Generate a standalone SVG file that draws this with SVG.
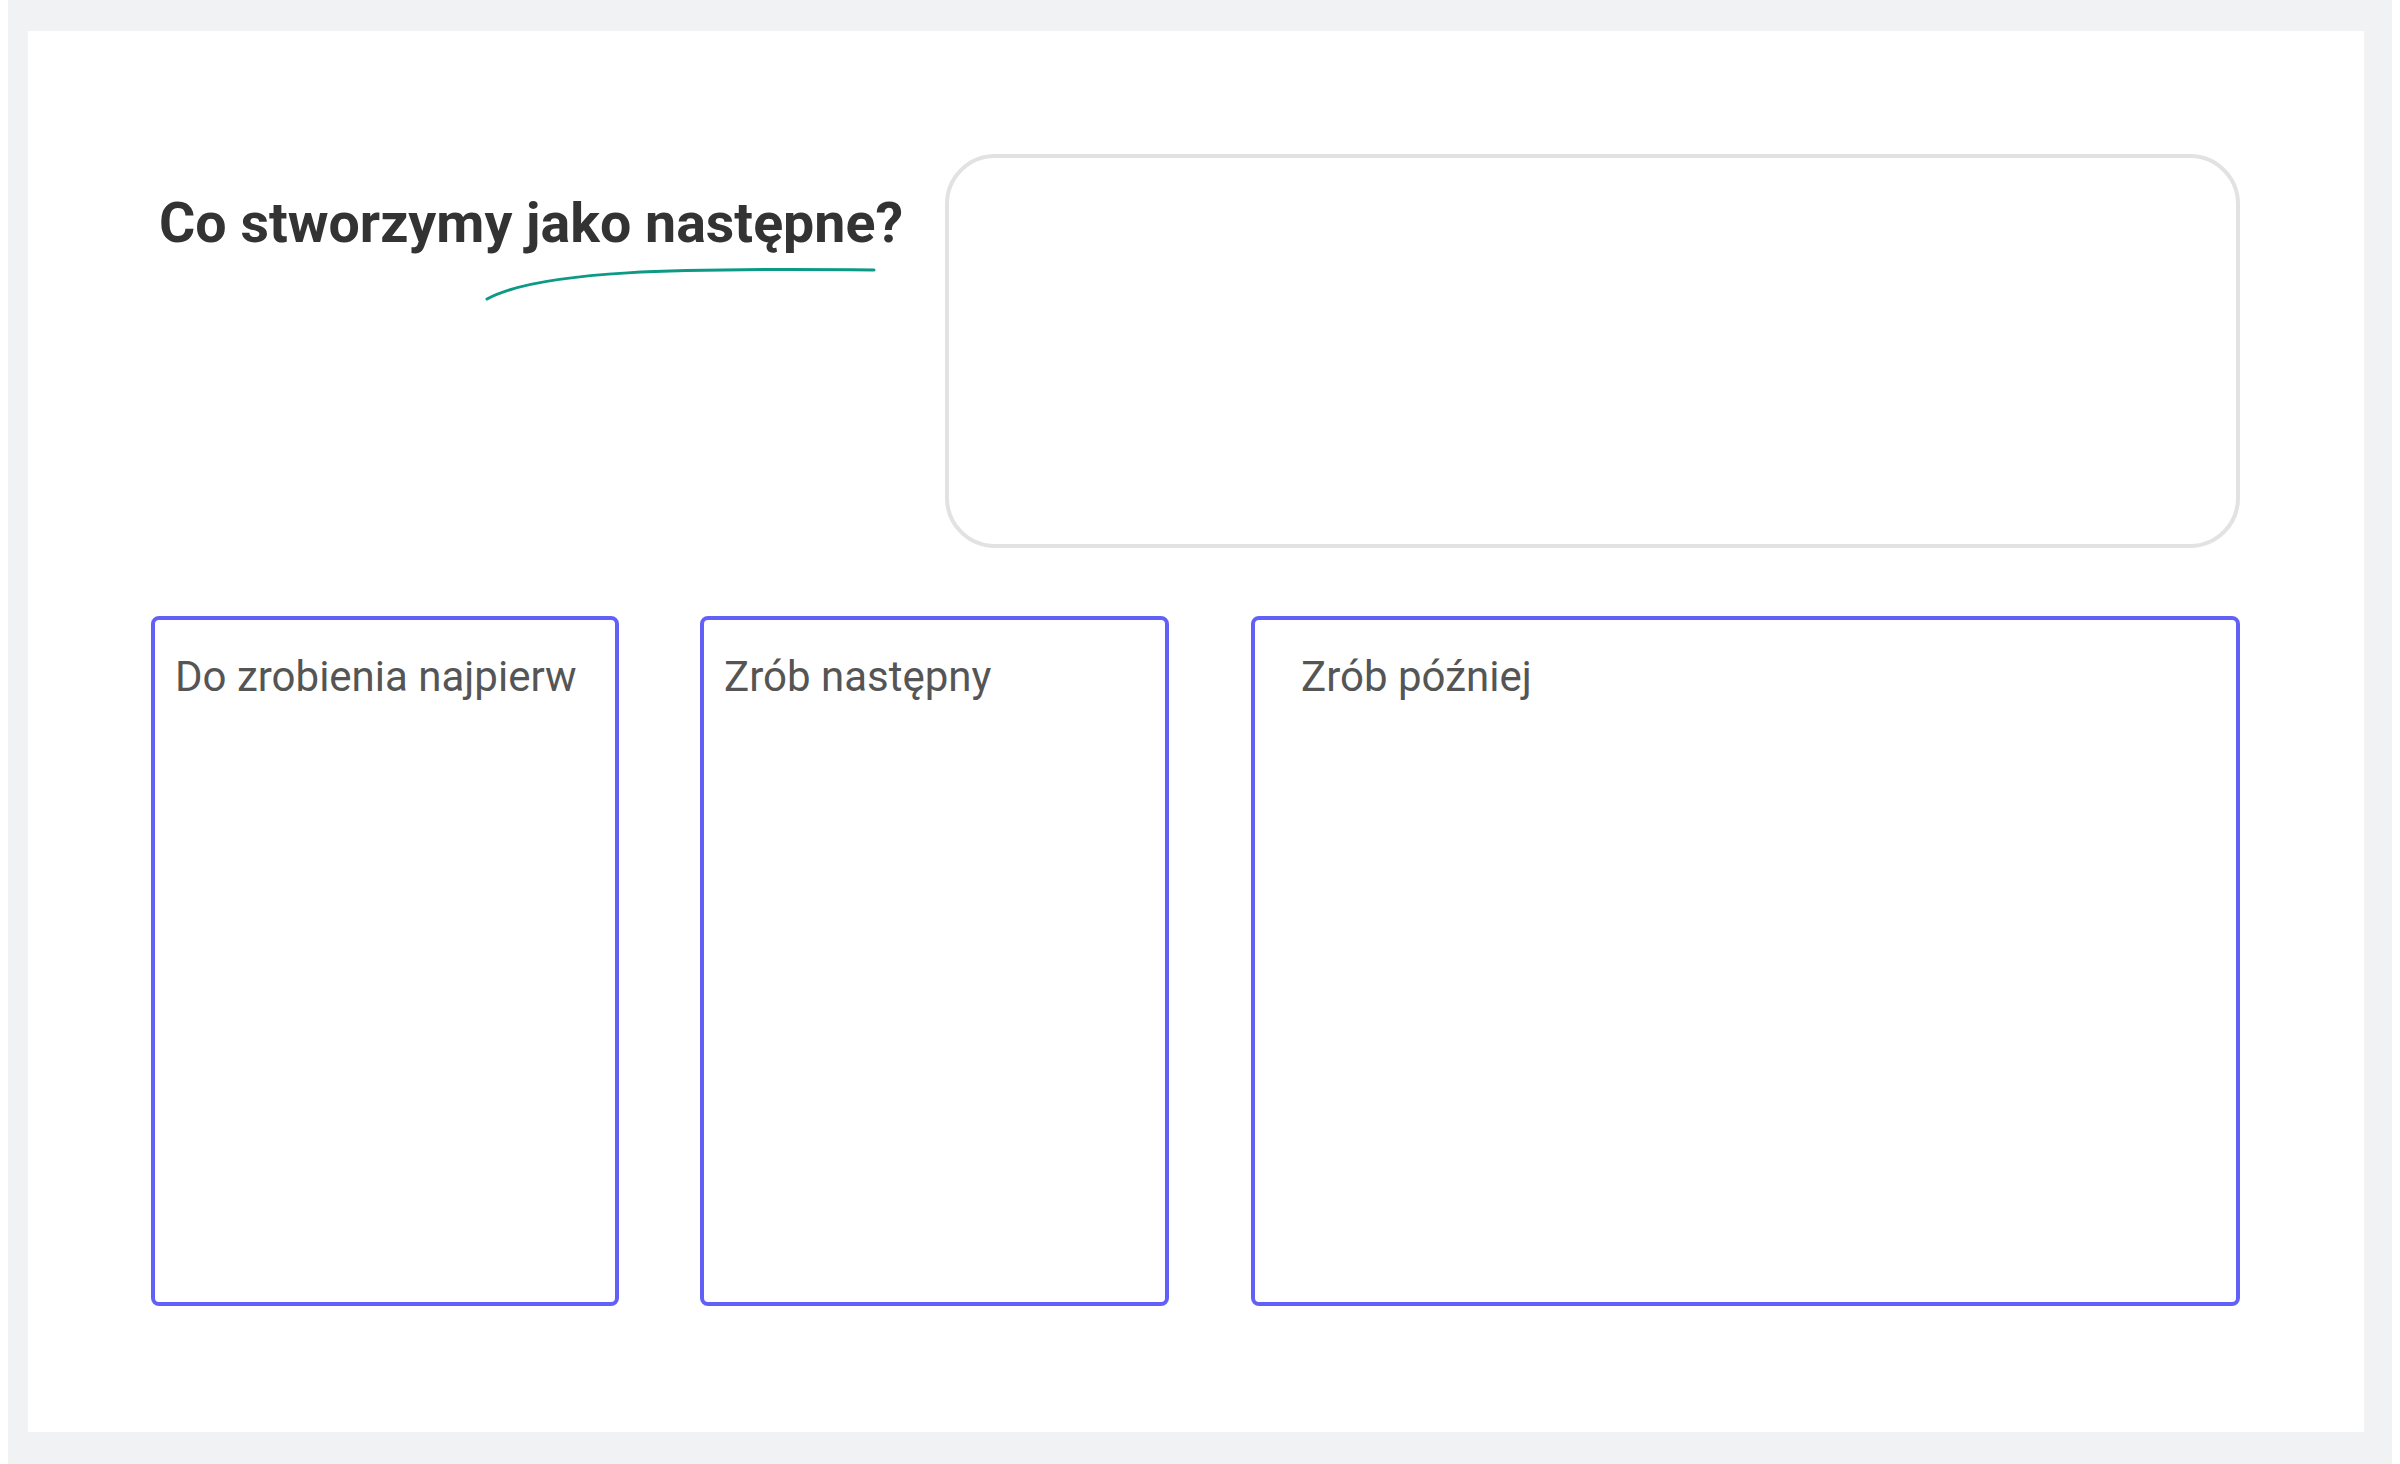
<svg xmlns="http://www.w3.org/2000/svg" width="2400" height="1464" viewBox="0 0 2400 1464">
  <style>
    .title { font-family: Roboto, "Liberation Sans", sans-serif; font-weight: 700; font-size: 55.5px; fill: #333333; }
    .label { font-family: Roboto, "Liberation Sans", sans-serif; font-weight: 400; font-size: 42px; fill: #555555; }
    .col { fill: #ffffff; stroke: #6360F8; stroke-width: 4; }
    .panel { fill: #ffffff; stroke: #E2E2E2; stroke-width: 4; }
  </style>
  <rect x="0" y="0" width="2400" height="1464" fill="#ffffff"/>
  <rect x="8" y="0" width="2384" height="1464" fill="#F1F2F4"/>
  <rect x="28" y="31" width="2336" height="1401" fill="#ffffff"/>

  <g id="title">
    <text class="title" x="159" y="242">Co stworzymy jako następne?</text>
    <path d="M487,299 C540,270 680,268 874,270" fill="none" stroke="#0C9A86" stroke-width="3" stroke-linecap="round"/>
  </g>

  <g id="idea-box">
    <rect class="panel" x="947" y="156" width="1291" height="390" rx="48" ry="48"/>
  </g>

  <g id="col-first">
    <rect class="col" x="153" y="618" width="464" height="686" rx="6" ry="6"/>
    <text class="label" x="175" y="691">Do zrobienia najpierw</text>
  </g>

  <g id="col-next">
    <rect class="col" x="702" y="618" width="465" height="686" rx="6" ry="6"/>
    <text class="label" x="724" y="691">Zrób następny</text>
  </g>

  <g id="col-later">
    <rect class="col" x="1253" y="618" width="985" height="686" rx="6" ry="6"/>
    <text class="label" x="1301" y="691">Zrób później</text>
  </g>

  <g id="connectors"></g>
</svg>
